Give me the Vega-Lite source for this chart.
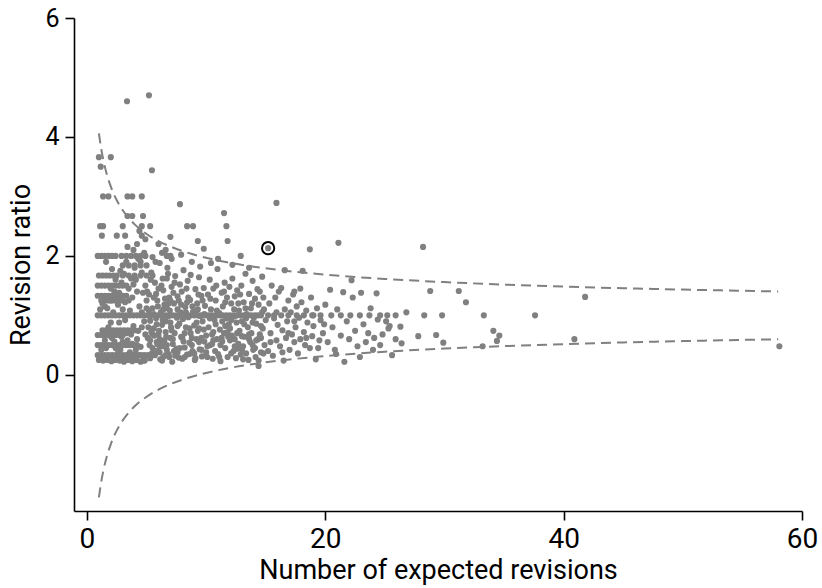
{
"$schema": "https://vega.github.io/schema/vega-lite/v6.json",
"width": 728, "height": 493,
"autosize": {"type": "none"},
"padding": {"left": 74, "top": 18, "right": 20, "bottom": 77},
"background": "white",
"config": {"view": {"stroke": null}, "axis": {"grid": false, "domainColor": "black", "tickColor": "black", "labelColor": "black", "titleColor": "black", "domainWidth": 1.6, "tickWidth": 1.6, "tickSize": 9, "titleFontWeight": "normal"}},
"datasets": {
"lim": [
{"e":1,"r":4.06,"side":"u"},{"e":1.2,"r":3.793,"side":"u"},{"e":1.4,"r":3.586,"side":"u"},{"e":1.6,"r":3.419,"side":"u"},{"e":1.8,"r":3.281,"side":"u"},{"e":2,"r":3.164,"side":"u"},{"e":2.5,"r":2.935,"side":"u"},{"e":3,"r":2.767,"side":"u"},{"e":3.5,"r":2.636,"side":"u"},{"e":4,"r":2.53,"side":"u"},{"e":5,"r":2.368,"side":"u"},{"e":6,"r":2.249,"side":"u"},{"e":7,"r":2.157,"side":"u"},{"e":8,"r":2.082,"side":"u"},{"e":10,"r":1.968,"side":"u"},{"e":12,"r":1.883,"side":"u"},{"e":14,"r":1.818,"side":"u"},{"e":17,"r":1.742,"side":"u"},{"e":20,"r":1.684,"side":"u"},{"e":25,"r":1.612,"side":"u"},{"e":30,"r":1.559,"side":"u"},{"e":35,"r":1.517,"side":"u"},{"e":40,"r":1.484,"side":"u"},{"e":45,"r":1.456,"side":"u"},{"e":50,"r":1.433,"side":"u"},{"e":58,"r":1.402,"side":"u"},
{"e":1,"r":-2.06,"side":"l"},{"e":1.2,"r":-1.793,"side":"l"},{"e":1.4,"r":-1.586,"side":"l"},{"e":1.6,"r":-1.419,"side":"l"},{"e":1.8,"r":-1.281,"side":"l"},{"e":2,"r":-1.164,"side":"l"},{"e":2.5,"r":-0.935,"side":"l"},{"e":3,"r":-0.767,"side":"l"},{"e":3.5,"r":-0.636,"side":"l"},{"e":4,"r":-0.53,"side":"l"},{"e":5,"r":-0.368,"side":"l"},{"e":6,"r":-0.249,"side":"l"},{"e":7,"r":-0.157,"side":"l"},{"e":8,"r":-0.082,"side":"l"},{"e":10,"r":0.032,"side":"l"},{"e":12,"r":0.117,"side":"l"},{"e":14,"r":0.182,"side":"l"},{"e":17,"r":0.258,"side":"l"},{"e":20,"r":0.316,"side":"l"},{"e":25,"r":0.388,"side":"l"},{"e":30,"r":0.441,"side":"l"},{"e":35,"r":0.483,"side":"l"},{"e":40,"r":0.516,"side":"l"},{"e":45,"r":0.544,"side":"l"},{"e":50,"r":0.567,"side":"l"},{"e":58,"r":0.598,"side":"l"}
],
"pts": [
{"e":0.9,"r":1},{"e":1.2,"r":1},{"e":1.5,"r":1},{"e":1.8,"r":1},{"e":2.1,"r":1},{"e":2.4,"r":1},{"e":2.7,"r":1},{"e":3.0,"r":1},{"e":3.3,"r":1},{"e":3.6,"r":1},{"e":3.9,"r":1},{"e":4.2,"r":1},{"e":4.5,"r":1},{"e":4.8,"r":1},{"e":5.1,"r":1},{"e":5.4,"r":1},{"e":5.7,"r":1},{"e":6.0,"r":1},{"e":6.3,"r":1},{"e":6.6,"r":1},{"e":6.9,"r":1},{"e":7.2,"r":1},{"e":7.5,"r":1},{"e":7.8,"r":1},{"e":8.1,"r":1},{"e":8.4,"r":1},{"e":8.7,"r":1},{"e":9.0,"r":1},{"e":9.3,"r":1},{"e":9.6,"r":1},{"e":9.9,"r":1},{"e":10.2,"r":1},{"e":10.5,"r":1},{"e":10.8,"r":1},{"e":11.1,"r":1},{"e":11.4,"r":1},{"e":11.7,"r":1},{"e":12.0,"r":1},{"e":12.3,"r":1},{"e":12.6,"r":1},{"e":12.9,"r":1},{"e":13.2,"r":1},{"e":13.5,"r":1},{"e":13.8,"r":1},{"e":14.1,"r":1},{"e":14.6,"r":1},{"e":15.2,"r":1},{"e":15.7,"r":1},{"e":16.3,"r":1},{"e":16.9,"r":1},{"e":17.6,"r":1},{"e":18.2,"r":1},{"e":19.0,"r":1},{"e":19.6,"r":1},{"e":20.5,"r":1},{"e":21.3,"r":1},{"e":22.1,"r":1},{"e":22.9,"r":1},{"e":23.7,"r":1},{"e":24.6,"r":1},{"e":25.2,"r":1},{"e":25.9,"r":1},{"e":28.3,"r":1},{"e":29.8,"r":1},{"e":33.3,"r":1},{"e":37.6,"r":1},
{"e":0.9,"r":0.5},{"e":1.2,"r":0.5},{"e":1.5,"r":0.5},{"e":1.8,"r":0.5},{"e":2.1,"r":0.5},{"e":2.4,"r":0.5},{"e":2.7,"r":0.5},{"e":3.0,"r":0.5},{"e":3.3,"r":0.5},{"e":3.6,"r":0.5},{"e":3.9,"r":0.5},{"e":4.2,"r":0.5},
{"e":0.9,"r":0.33},{"e":1.2,"r":0.33},{"e":1.5,"r":0.33},{"e":1.8,"r":0.33},{"e":2.1,"r":0.33},{"e":2.4,"r":0.33},{"e":2.7,"r":0.33},{"e":3.0,"r":0.33},{"e":3.3,"r":0.33},{"e":3.6,"r":0.33},{"e":3.9,"r":0.33},{"e":4.2,"r":0.33},{"e":4.5,"r":0.33},{"e":4.8,"r":0.33},{"e":5.1,"r":0.33},
{"e":1.0,"r":0.25},{"e":1.35,"r":0.24},{"e":1.7,"r":0.25},{"e":2.05,"r":0.23},{"e":2.4,"r":0.25},{"e":2.75,"r":0.24},{"e":3.1,"r":0.22},{"e":3.45,"r":0.25},{"e":3.8,"r":0.23},{"e":4.15,"r":0.25},{"e":4.5,"r":0.22},{"e":4.85,"r":0.24},
{"e":1.3,"r":0.75},{"e":1.6,"r":0.75},{"e":1.9,"r":0.75},{"e":2.2,"r":0.75},{"e":2.5,"r":0.75},{"e":2.8,"r":0.75},{"e":3.1,"r":0.75},{"e":3.4,"r":0.75},{"e":3.7,"r":0.75},{"e":4.0,"r":0.75},
{"e":0.9,"r":0.67},{"e":1.2,"r":0.67},{"e":1.5,"r":0.67},{"e":1.8,"r":0.67},{"e":2.1,"r":0.67},{"e":2.4,"r":0.67},{"e":2.7,"r":0.67},{"e":3.0,"r":0.67},
{"e":0.9,"r":1.33},{"e":1.2,"r":1.33},{"e":1.5,"r":1.33},{"e":1.8,"r":1.33},{"e":2.1,"r":1.33},{"e":2.4,"r":1.33},{"e":2.7,"r":1.33},{"e":3.0,"r":1.33},{"e":3.3,"r":1.33},
{"e":1.2,"r":1.25},{"e":1.5,"r":1.25},{"e":1.8,"r":1.25},{"e":2.1,"r":1.25},{"e":2.4,"r":1.25},{"e":2.7,"r":1.25},{"e":3.0,"r":1.25},
{"e":0.9,"r":1.5},{"e":1.2,"r":1.5},{"e":1.5,"r":1.5},{"e":1.8,"r":1.5},{"e":2.1,"r":1.5},{"e":2.4,"r":1.5},{"e":2.7,"r":1.5},{"e":3.0,"r":1.5},{"e":3.3,"r":1.5},
{"e":1.0,"r":1.67},{"e":1.3,"r":1.67},{"e":1.6,"r":1.67},{"e":1.9,"r":1.67},{"e":2.2,"r":1.67},{"e":2.5,"r":1.67},{"e":3.0,"r":1.67},{"e":3.5,"r":1.67},{"e":4.0,"r":1.67},{"e":4.5,"r":1.67},{"e":5.0,"r":1.67},{"e":5.5,"r":1.67},
{"e":3.0,"r":1.84},{"e":3.5,"r":1.84},{"e":4.0,"r":1.84},{"e":4.5,"r":1.84},{"e":5.0,"r":1.84},
{"e":0.9,"r":2},{"e":1.2,"r":2},{"e":1.5,"r":2},{"e":1.8,"r":2},{"e":2.1,"r":2},{"e":2.4,"r":2},{"e":2.9,"r":2},{"e":3.3,"r":2},{"e":3.7,"r":2},{"e":4.1,"r":2},{"e":4.5,"r":2},{"e":4.9,"r":2},
{"e":1.2,"r":0.42},{"e":1.5,"r":0.58},{"e":1.8,"r":0.8},{"e":2.1,"r":0.62},{"e":2.4,"r":0.45},{"e":2.7,"r":0.88},{"e":3.0,"r":0.55},{"e":3.3,"r":0.7},{"e":3.6,"r":0.38},{"e":3.9,"r":0.82},{"e":4.2,"r":0.6},{"e":4.5,"r":0.47},{"e":4.8,"r":0.9},{"e":2.2,"r":0.3},{"e":2.6,"r":0.36},{"e":3.1,"r":0.28},{"e":3.5,"r":0.3},{"e":4.0,"r":0.27},{"e":4.4,"r":0.33},{"e":4.7,"r":0.24},{"e":1.4,"r":0.7},{"e":1.9,"r":0.66},{"e":2.5,"r":0.72},{"e":2.9,"r":0.64},{"e":3.4,"r":0.58},{"e":3.8,"r":0.52},{"e":4.3,"r":0.74},{"e":4.9,"r":0.68},
{"e":1.3,"r":1.2},{"e":1.7,"r":1.12},{"e":2.0,"r":1.25},{"e":2.3,"r":1.4},{"e":2.6,"r":1.18},{"e":2.9,"r":1.55},{"e":3.2,"r":1.22},{"e":3.5,"r":1.45},{"e":3.8,"r":1.3},{"e":4.1,"r":1.6},{"e":4.4,"r":1.15},{"e":4.7,"r":1.38},{"e":5.0,"r":1.25},{"e":2.8,"r":1.75},{"e":3.3,"r":1.9},{"e":3.7,"r":1.62},{"e":4.0,"r":1.8},{"e":4.3,"r":1.95},{"e":4.6,"r":1.72},{"e":4.9,"r":1.5},{"e":3.9,"r":2.1},{"e":4.2,"r":2.2},{"e":4.8,"r":2.05},{"e":3.0,"r":1.1},{"e":3.6,"r":1.08},{"e":4.5,"r":1.9},{"e":5.0,"r":1.12},{"e":2.4,"r":1.6},{"e":1.6,"r":1.9},{"e":2.1,"r":1.78},{"e":3.4,"r":2.15},{"e":4.9,"r":2.28},{"e":4.4,"r":2.42},
{"e":1.6,"r":0.45},{"e":2.0,"r":0.88},{"e":2.3,"r":0.56},{"e":2.8,"r":0.42},{"e":3.2,"r":0.92},{"e":3.7,"r":0.68},{"e":4.1,"r":0.42},{"e":4.6,"r":0.8},{"e":1.1,"r":1.1},{"e":1.5,"r":1.15},{"e":2.2,"r":1.05},{"e":2.7,"r":1.38},{"e":3.5,"r":1.25},{"e":4.2,"r":1.4},{"e":4.6,"r":1.05},{"e":2.0,"r":1.45},{"e":3.1,"r":1.7},{"e":3.9,"r":1.52},
{"e":1.1,"r":2.5},{"e":1.35,"r":2.5},{"e":3.0,"r":2.5},{"e":4.6,"r":2.5},{"e":5.3,"r":2.5},{"e":1.25,"r":2.34},{"e":2.5,"r":2.34},{"e":3.2,"r":2.34},{"e":4.6,"r":2.34},{"e":3.4,"r":2.67},{"e":3.8,"r":2.67},{"e":4.7,"r":2.67},{"e":1.35,"r":3.0},{"e":1.8,"r":3.0},{"e":3.4,"r":3.0},{"e":3.8,"r":3.0},{"e":4.6,"r":3.0},{"e":1.0,"r":3.66},{"e":2.0,"r":3.66},{"e":1.15,"r":3.5},{"e":5.45,"r":3.44},{"e":3.36,"r":4.6},{"e":5.2,"r":4.7},{"e":7.8,"r":2.87},{"e":11.5,"r":2.72},{"e":15.9,"r":2.89},
{"e":5.1,"r":0.62},{"e":5.2,"r":1.35},{"e":5.3,"r":0.28},{"e":5.3,"r":0.91},{"e":5.4,"r":1.72},{"e":5.5,"r":0.45},{"e":5.5,"r":1.12},{"e":5.6,"r":0.78},{"e":5.7,"r":0.33},{"e":5.7,"r":1.55},{"e":5.8,"r":0.95},{"e":5.9,"r":0.52},{"e":5.9,"r":1.25},{"e":6.0,"r":0.68},{"e":6.1,"r":1.88},{"e":6.1,"r":0.38},{"e":6.2,"r":1.05},{"e":6.3,"r":0.84},{"e":6.3,"r":0.24},{"e":6.4,"r":1.42},{"e":6.5,"r":0.58},{"e":6.5,"r":1.18},{"e":6.6,"r":0.72},{"e":6.7,"r":1.62},{"e":6.7,"r":0.42},{"e":6.8,"r":0.98},{"e":6.9,"r":1.3},{"e":6.9,"r":0.3},{"e":7.0,"r":0.88},{"e":7.1,"r":1.48},
{"e":5.15,"r":0.8},{"e":5.35,"r":1.6},{"e":5.45,"r":0.36},{"e":5.6,"r":1.02},{"e":5.75,"r":1.9},{"e":5.85,"r":0.55},{"e":5.95,"r":1.15},{"e":6.05,"r":0.74},{"e":6.15,"r":0.26},{"e":6.25,"r":1.5},{"e":6.35,"r":0.92},{"e":6.45,"r":0.48},{"e":6.55,"r":1.28},{"e":6.65,"r":0.64},{"e":6.75,"r":1.8},{"e":6.85,"r":0.35},{"e":6.95,"r":1.08},{"e":7.05,"r":0.8},{"e":7.15,"r":0.22},{"e":7.25,"r":1.38},
{"e":7.2,"r":0.6},{"e":7.3,"r":1.2},{"e":7.35,"r":0.7},{"e":7.4,"r":1.66},{"e":7.5,"r":0.44},{"e":7.55,"r":0.96},{"e":7.6,"r":1.32},{"e":7.7,"r":0.29},{"e":7.75,"r":0.86},{"e":7.8,"r":1.52},{"e":7.9,"r":0.64},{"e":7.95,"r":1.4},{"e":8.0,"r":0.27},{"e":8.05,"r":0.94},{"e":8.1,"r":1.76},{"e":8.2,"r":0.46},{"e":8.25,"r":1.14},{"e":8.3,"r":0.8},{"e":8.4,"r":0.34},{"e":8.45,"r":1.58},{"e":8.5,"r":0.97},{"e":8.6,"r":0.54},{"e":8.65,"r":1.26},{"e":8.7,"r":0.7},{"e":8.8,"r":1.9},{"e":8.85,"r":0.4},{"e":8.9,"r":1.06},{"e":9.0,"r":0.83},{"e":9.05,"r":0.25},{"e":9.1,"r":1.44},{"e":9.2,"r":0.6},{"e":9.25,"r":1.2},{"e":9.3,"r":0.74},{"e":9.4,"r":1.64},{"e":9.45,"r":0.43},{"e":9.5,"r":0.99},{"e":9.6,"r":1.33},{"e":9.65,"r":0.31},{"e":9.7,"r":0.9},{"e":9.8,"r":1.46},{"e":9.85,"r":0.56},{"e":9.9,"r":1.16},{"e":10.0,"r":0.66},
{"e":5.25,"r":0.5},{"e":5.65,"r":0.66},{"e":6.0,"r":1.45},{"e":6.4,"r":0.3},{"e":6.8,"r":1.7},{"e":7.2,"r":0.52},{"e":7.6,"r":1.1},{"e":8.0,"r":0.62},{"e":8.4,"r":1.22},{"e":8.8,"r":0.5},{"e":9.2,"r":0.88},{"e":9.6,"r":0.42},{"e":5.5,"r":1.98},{"e":6.3,"r":2.05},{"e":7.1,"r":1.95},{"e":7.9,"r":2.02},{"e":8.7,"r":1.68},{"e":9.5,"r":1.82},{"e":5.8,"r":0.4},{"e":6.6,"r":0.9},{"e":7.4,"r":0.32},{"e":8.2,"r":0.7},{"e":9.0,"r":0.36},{"e":9.8,"r":0.76},{"e":6.2,"r":0.52},{"e":7.0,"r":0.62},{"e":7.8,"r":0.45},{"e":8.6,"r":0.35},{"e":9.4,"r":0.55},{"e":5.4,"r":0.72},{"e":6.7,"r":1.12},{"e":7.7,"r":1.25},{"e":8.3,"r":1.05},{"e":9.3,"r":1.1},
{"e":5.05,"r":1.4},{"e":5.3,"r":0.58},{"e":5.6,"r":1.3},{"e":5.85,"r":0.85},{"e":6.1,"r":0.47},{"e":6.35,"r":1.62},{"e":6.6,"r":0.33},{"e":6.85,"r":1.2},{"e":7.1,"r":0.75},{"e":7.35,"r":1.55},{"e":7.6,"r":0.38},{"e":7.85,"r":1.05},{"e":8.1,"r":0.56},{"e":8.35,"r":1.45},{"e":8.6,"r":0.78},{"e":8.85,"r":1.15},{"e":9.1,"r":0.28},{"e":9.35,"r":1.35},{"e":9.6,"r":0.62},{"e":9.85,"r":1.02},
{"e":5.2,"r":1.08},{"e":5.5,"r":0.68},{"e":5.8,"r":1.36},{"e":6.1,"r":0.6},{"e":6.4,"r":1.1},{"e":6.7,"r":0.5},{"e":7.0,"r":1.25},{"e":7.3,"r":0.4},{"e":7.6,"r":0.82},{"e":7.9,"r":1.18},{"e":8.2,"r":0.3},{"e":8.5,"r":1.3},{"e":8.8,"r":0.62},{"e":9.1,"r":1.05},{"e":9.4,"r":0.78},{"e":9.7,"r":1.25},
{"e":7.0,"r":2.32},{"e":8.4,"r":2.5},{"e":8.9,"r":2.5},{"e":9.3,"r":2.25},{"e":9.8,"r":2.12},{"e":6.7,"r":2.0},{"e":7.0,"r":2.0},{"e":6.0,"r":2.2},{"e":6.6,"r":2.1},
{"e":10.1,"r":0.3},{"e":10.15,"r":1.35},{"e":10.2,"r":0.8},{"e":10.3,"r":1.6},{"e":10.35,"r":0.5},{"e":10.4,"r":1.1},{"e":10.5,"r":0.68},{"e":10.55,"r":0.27},{"e":10.6,"r":1.45},{"e":10.7,"r":0.92},{"e":10.75,"r":0.4},{"e":10.8,"r":1.25},{"e":10.9,"r":0.6},{"e":10.95,"r":1.78},{"e":11.0,"r":0.35},{"e":11.1,"r":1.04},{"e":11.15,"r":0.76},{"e":11.2,"r":0.23},{"e":11.3,"r":1.38},{"e":11.35,"r":0.56},{"e":11.4,"r":1.15},{"e":11.5,"r":0.7},{"e":11.55,"r":1.55},{"e":11.6,"r":0.45},{"e":11.7,"r":0.95},{"e":11.75,"r":1.3},{"e":11.8,"r":0.3},{"e":11.9,"r":0.85},{"e":11.95,"r":1.48},{"e":12.0,"r":0.58},{"e":12.1,"r":1.2},{"e":12.15,"r":0.66},{"e":12.2,"r":1.62},{"e":12.3,"r":0.4},{"e":12.35,"r":0.98},{"e":12.4,"r":1.32},{"e":12.5,"r":0.28},{"e":12.55,"r":0.88},{"e":12.6,"r":1.42},{"e":12.7,"r":0.52},{"e":12.75,"r":1.08},{"e":12.8,"r":0.74},{"e":12.9,"r":0.34},{"e":12.95,"r":1.5},{"e":13.0,"r":0.9},{"e":13.1,"r":0.48},{"e":13.15,"r":1.22},{"e":13.2,"r":0.64},{"e":13.3,"r":1.7},{"e":13.35,"r":0.36},{"e":13.4,"r":1.02},{"e":13.5,"r":0.8},{"e":13.55,"r":0.25},{"e":13.6,"r":1.36},{"e":13.7,"r":0.55},{"e":13.75,"r":1.12},{"e":13.8,"r":0.7},{"e":13.9,"r":1.58},{"e":13.95,"r":0.42},{"e":14.0,"r":0.96},{"e":14.1,"r":1.28},{"e":14.15,"r":0.3},{"e":14.2,"r":0.86},{"e":14.3,"r":1.44},{"e":14.35,"r":0.6},{"e":14.4,"r":1.18},{"e":14.5,"r":0.68},{"e":14.6,"r":0.38},{"e":14.7,"r":1.05},{"e":14.75,"r":0.78},{"e":14.8,"r":1.3},{"e":14.9,"r":0.5},{"e":15.0,"r":0.92},
{"e":10.1,"r":0.48},{"e":10.35,"r":1.28},{"e":10.6,"r":0.58},{"e":10.85,"r":1.5},{"e":11.1,"r":0.3},{"e":11.35,"r":0.9},{"e":11.6,"r":1.22},{"e":11.85,"r":0.64},{"e":12.1,"r":0.36},{"e":12.35,"r":1.1},{"e":12.6,"r":0.7},{"e":12.85,"r":1.35},{"e":13.1,"r":0.26},{"e":13.35,"r":0.95},{"e":13.6,"r":0.6},{"e":13.85,"r":1.2},{"e":14.1,"r":0.45},{"e":14.35,"r":1.0},{"e":14.6,"r":0.82},{"e":14.85,"r":1.1},
{"e":10.0,"r":0.38},{"e":10.3,"r":0.95},{"e":10.6,"r":0.72},{"e":10.9,"r":1.08},{"e":11.2,"r":0.5},{"e":11.5,"r":1.4},{"e":11.8,"r":0.72},{"e":12.1,"r":0.92},{"e":12.4,"r":0.48},{"e":12.7,"r":1.2},{"e":13.0,"r":0.42},{"e":13.3,"r":1.12},{"e":13.6,"r":0.68},{"e":13.9,"r":0.88},{"e":14.2,"r":0.58},{"e":14.5,"r":1.4},{"e":14.8,"r":0.36},
{"e":10.4,"r":1.88},{"e":11.0,"r":1.95},{"e":11.7,"r":2.5},{"e":11.8,"r":2.25},{"e":12.9,"r":2.0},{"e":12.2,"r":1.85},{"e":13.6,"r":1.8},{"e":14.7,"r":1.65},{"e":14.4,"r":0.15},{"e":14.4,"r":0.24},{"e":15.2,"r":2.13},{"e":10.5,"r":0.52},{"e":11.3,"r":0.62},{"e":12.0,"r":0.78},{"e":12.6,"r":0.44},{"e":13.2,"r":0.85},{"e":13.9,"r":0.5},{"e":14.6,"r":0.62},{"e":10.8,"r":0.85},{"e":11.6,"r":0.82},{"e":12.4,"r":0.6},{"e":13.0,"r":0.65},
{"e":15.2,"r":0.4},{"e":15.3,"r":1.2},{"e":15.4,"r":0.7},{"e":15.5,"r":1.5},{"e":15.6,"r":0.32},{"e":15.7,"r":0.95},{"e":15.8,"r":1.3},{"e":15.9,"r":0.58},{"e":16.0,"r":0.84},{"e":16.1,"r":1.4},{"e":16.2,"r":0.48},{"e":16.3,"r":1.46},{"e":16.4,"r":0.75},{"e":16.5,"r":0.24},{"e":16.6,"r":1.76},{"e":16.6,"r":1.1},{"e":16.7,"r":0.62},{"e":16.8,"r":0.9},{"e":16.9,"r":1.25},{"e":17.0,"r":0.42},{"e":17.1,"r":1.05},{"e":17.2,"r":0.68},{"e":17.3,"r":1.35},{"e":17.4,"r":1.4},{"e":17.4,"r":0.55},{"e":17.5,"r":0.8},{"e":17.6,"r":1.15},{"e":17.7,"r":0.36},{"e":17.8,"r":0.96},{"e":17.9,"r":0.6},{"e":18.0,"r":1.22},{"e":18.1,"r":1.75},{"e":18.2,"r":0.72},{"e":18.3,"r":0.5},{"e":18.4,"r":1.08},{"e":18.5,"r":0.88},{"e":18.7,"r":2.11},{"e":18.7,"r":0.45},{"e":18.8,"r":1.3},{"e":18.9,"r":0.65},{"e":19.0,"r":0.82},{"e":19.2,"r":0.26},{"e":19.3,"r":1.12},{"e":19.5,"r":0.58},{"e":19.6,"r":0.92},{"e":19.8,"r":0.7},{"e":20.0,"r":1.18},
{"e":15.4,"r":0.55},{"e":15.9,"r":1.05},{"e":16.4,"r":0.38},{"e":16.9,"r":0.7},{"e":17.4,"r":0.9},{"e":17.9,"r":1.45},{"e":18.4,"r":0.62},{"e":18.9,"r":1.0},{"e":19.4,"r":0.45},{"e":19.9,"r":0.85},
{"e":20.2,"r":0.55},{"e":20.4,"r":1.43},{"e":20.6,"r":0.8},{"e":20.8,"r":0.42},{"e":21.0,"r":1.1},{"e":21.1,"r":2.22},{"e":21.3,"r":0.66},{"e":21.5,"r":1.39},{"e":21.6,"r":0.22},{"e":21.8,"r":0.9},{"e":22.0,"r":0.6},{"e":22.2,"r":1.59},{"e":22.3,"r":1.3},{"e":22.5,"r":0.74},{"e":22.7,"r":0.48},{"e":23.0,"r":1.38},{"e":23.2,"r":0.85},{"e":23.4,"r":0.55},{"e":23.6,"r":0.7},{"e":23.8,"r":1.12},{"e":24.1,"r":0.62},{"e":24.3,"r":1.37},{"e":24.4,"r":0.93},{"e":24.6,"r":0.5},{"e":24.8,"r":0.68},{"e":25.1,"r":0.9},{"e":25.3,"r":0.78},{"e":25.4,"r":0.82},{"e":25.6,"r":0.33},{"e":25.9,"r":0.6},{"e":26.3,"r":0.81},{"e":26.4,"r":0.53},{"e":26.8,"r":1.05},{"e":20.9,"r":0.35},{"e":22.9,"r":0.3},{"e":24.0,"r":0.42},
{"e":27.8,"r":0.65},{"e":28.2,"r":2.15},{"e":28.8,"r":1.41},{"e":29.3,"r":0.67},{"e":29.9,"r":0.54},{"e":31.2,"r":1.41},{"e":31.8,"r":1.22},{"e":33.2,"r":0.48},{"e":34.1,"r":0.74},{"e":34.6,"r":0.66},{"e":34.4,"r":0.57},{"e":40.9,"r":0.6},{"e":41.8,"r":1.31},{"e":58.1,"r":0.48}
]
},
"layer": [
{"data": {"name": "lim"},
 "mark": {"type": "line", "stroke": "#808080", "strokeWidth": 2, "strokeDash": [10, 6], "interpolate": "monotone"},
 "encoding": {
  "x": {"field": "e", "type": "quantitative", "scale": {"domain": [-1.09, 60], "nice": false, "zero": false},
        "axis": {"values": [0, 20, 40, 60], "format": "d", "title": "Number of expected revisions", "labelFont": "Roboto, sans-serif", "labelFontSize": 28, "titleFont": "Roboto, sans-serif", "titleFontSize": 27, "labelPadding": 5, "titlePadding": 4, "labelFlush": false}},
  "y": {"field": "r", "type": "quantitative", "scale": {"domain": [-2.29, 6], "nice": false, "zero": false},
        "axis": {"values": [0, 2, 4, 6], "format": "d", "title": "Revision ratio", "labelFont": "Roboto, sans-serif", "labelFontSize": 25, "titleFont": "Roboto, sans-serif", "titleFontSize": 27, "labelPadding": 6, "titlePadding": 9, "labelFlush": false}},
  "detail": {"field": "side"}
 }},
{"mark": {"type": "rule", "color": "black", "strokeWidth": 1.8, "clip": false},
 "encoding": {"y": {"datum": 1, "type": "quantitative"}, "x": {"datum": -1.09, "type": "quantitative"}, "x2": {"datum": 61.07}}},
{"data": {"name": "pts"},
 "mark": {"type": "circle", "size": 38, "color": "#808080", "opacity": 1},
 "encoding": {"x": {"field": "e", "type": "quantitative"}, "y": {"field": "r", "type": "quantitative"}}},
{"data": {"values": [{"e": 15.2, "r": 2.13}]},
 "mark": {"type": "point", "size": 150, "stroke": "black", "strokeWidth": 2, "filled": false, "opacity": 1},
 "encoding": {"x": {"field": "e", "type": "quantitative"}, "y": {"field": "r", "type": "quantitative"}}}
]
}
